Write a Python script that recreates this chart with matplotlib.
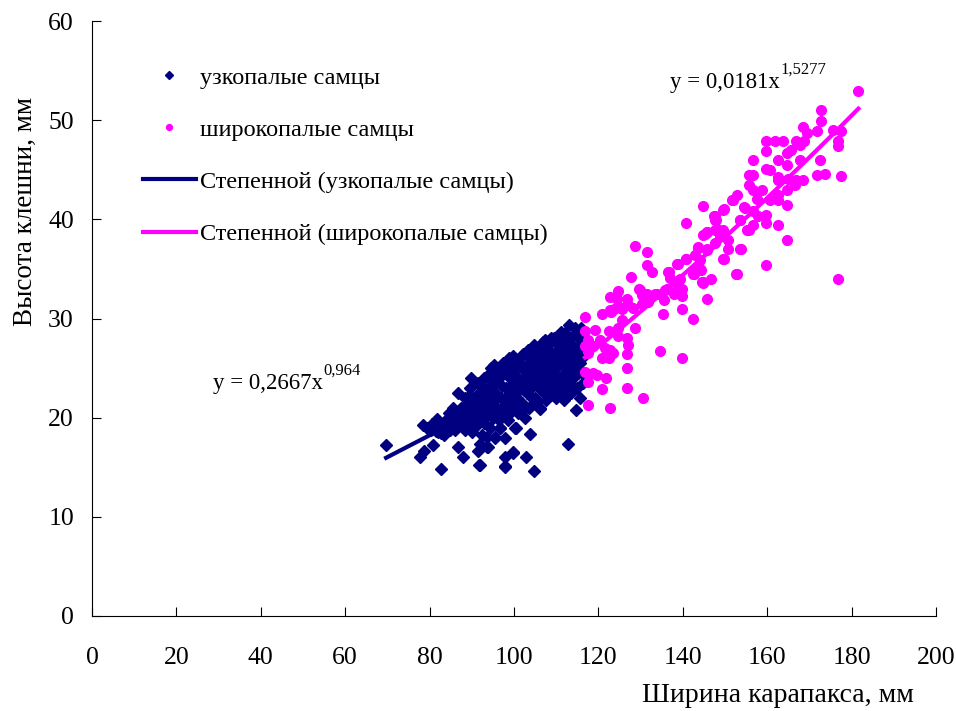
import numpy as np
import matplotlib
matplotlib.use("Agg")
import matplotlib.pyplot as plt

plt.rcParams['font.family'] = ['Liberation Serif', 'DejaVu Serif']

# узкопалые самцы: (ширина карапакса, высота клешни)
narrow_pts = [
    (69.7, 17.2), (77.7, 16.0), (78.7, 16.6), (78.5, 19.3), (79.5, 19.0), (80.5, 19.4),
    (81.7, 19.9), (80.9, 17.2), (82.7, 14.8), (82.0, 18.6), (83.0, 19.2), (83.5, 18.3),
    (84.0, 19.8), (84.5, 20.5), (85.0, 19.0), (85.6, 21.0), (86.0, 18.8), (86.5, 20.2),
    (86.8, 22.5), (86.8, 17.0), (87.0, 19.5), (87.5, 21.0), (87.8, 16.0), (88.0, 20.0),
    (88.3, 22.0), (88.5, 18.8), (89.0, 21.5), (89.0, 19.5), (89.5, 23.0), (89.7, 24.0),
    (90.0, 20.5), (90.0, 18.6), (90.5, 22.0), (91.0, 21.0), (91.0, 19.2), (91.5, 23.5),
    (91.5, 16.6), (91.7, 15.2), (91.9, 17.3), (92.0, 20.0), (92.0, 22.5), (92.5, 18.3),
    (92.5, 21.5), (93.0, 24.0), (93.0, 19.5), (93.5, 22.0), (93.5, 18.1), (93.8, 17.0),
    (93.8, 20.8), (94.0, 23.0), (94.3, 19.0), (94.5, 25.0), (94.5, 21.5), (95.0, 24.5),
    (95.0, 20.0), (95.5, 22.5), (95.6, 18.0), (96.0, 21.0), (96.0, 23.5), (96.5, 19.8),
    (96.8, 19.0), (96.8, 25.0), (97.0, 22.0), (97.0, 24.2), (97.5, 20.5), (97.8, 18.0),
    (97.8, 16.0), (97.8, 15.0), (98.0, 23.0), (98.0, 21.5), (98.5, 25.5), (98.5, 19.8),
    (98.9, 26.0), (99.0, 22.5), (99.0, 24.0), (99.5, 20.8), (99.8, 16.5), (100.0, 23.5),
    (100.0, 21.5), (100.3, 19.0), (100.5, 25.0), (100.5, 22.5), (101.0, 24.0), (101.0, 20.5),
    (101.5, 26.0), (101.5, 23.0), (102.0, 21.5), (102.0, 25.0), (102.5, 24.0), (102.8, 26.4),
    (102.8, 16.0), (102.5, 20.0), (103.0, 22.5), (103.5, 25.5), (103.5, 21.0), (103.8, 18.4),
    (104.0, 24.0), (104.0, 23.0), (104.5, 26.5), (104.7, 14.6), (105.0, 22.0), (105.0, 25.0),
    (105.5, 23.5), (105.5, 27.0), (106.0, 24.5), (106.2, 21.0), (106.5, 26.0), (106.5, 22.8),
    (106.9, 27.6), (107.0, 25.0), (107.0, 23.5), (107.5, 21.8), (107.5, 26.5), (108.0, 24.0),
    (108.0, 27.3), (108.5, 22.5), (108.5, 25.5), (109.0, 26.5), (109.0, 23.5), (109.5, 28.0),
    (109.7, 27.7), (110.0, 25.0), (110.0, 22.0), (110.5, 26.5), (110.5, 24.0), (110.9, 28.2),
    (110.9, 22.5), (111.0, 27.0), (111.0, 23.0), (111.5, 25.5), (111.8, 21.8), (112.0, 28.5),
    (112.0, 24.5), (112.1, 22.0), (112.5, 26.5), (112.5, 23.0), (112.8, 17.3), (113.0, 29.3),
    (113.0, 27.5), (113.0, 25.0), (113.5, 22.5), (113.5, 28.0), (114.0, 26.0), (114.0, 24.0),
    (114.5, 29.0), (114.5, 27.0), (114.7, 20.8), (115.0, 25.5), (115.0, 23.0), (115.6, 22.0),
    (115.5, 28.0), (115.5, 26.5), (116.0, 27.5), (116.0, 24.5), (106.2, 20.9), (96.7, 19.0),
    (100.5, 19.0), (95.5, 18.1), (93.5, 17.0), (91.9, 15.2), (97.9, 15.1), (99.8, 16.4),
    (85.5, 19.8), (86.2, 19.5), (87.2, 20.3), (88.2, 19.2), (88.8, 20.8), (89.3, 22.2),
    (89.8, 19.9), (84.8, 18.8), (83.8, 19.0), (82.8, 18.5), (81.5, 18.7), (80.3, 18.8),
    (90.3, 21.2), (90.8, 19.7), (91.3, 22.3), (91.8, 20.6), (92.3, 23.2), (92.8, 21.0),
    (93.2, 22.8), (93.3, 20.2), (93.7, 24.2), (94.2, 21.8), (94.7, 20.4), (94.8, 23.6),
    (95.2, 22.0), (95.3, 25.3), (95.8, 20.7), (96.2, 24.3), (96.3, 22.2), (96.7, 20.3),
    (97.2, 23.2), (97.3, 25.5), (97.7, 21.2), (98.2, 24.6), (98.3, 22.2), (98.7, 20.4),
    (99.2, 25.2), (99.3, 23.2), (99.7, 21.8), (99.8, 26.2), (100.2, 24.3), (100.8, 22.0),
    (101.2, 25.5), (101.3, 21.2), (101.8, 23.6), (102.2, 26.4), (102.3, 22.8), (102.7, 21.0),
    (103.2, 24.7), (103.3, 26.8), (103.7, 23.3), (104.2, 22.0), (104.3, 25.5), (104.8, 24.2),
    (104.8, 27.3), (105.2, 26.0), (105.3, 21.5), (105.8, 24.0), (106.2, 27.0), (106.3, 23.0),
    (106.8, 25.5), (107.2, 22.5), (107.3, 27.8), (107.8, 24.6), (108.2, 23.0), (108.3, 26.3),
    (108.8, 28.0), (108.8, 24.5), (109.2, 22.3), (109.3, 25.5), (109.8, 26.5), (109.8, 23.8),
    (110.2, 27.5), (110.3, 23.2), (110.8, 25.7), (111.2, 28.6), (111.3, 24.2), (111.7, 26.3),
    (112.2, 27.5), (112.3, 23.6), (112.8, 25.8), (113.2, 26.3), (113.3, 24.0), (113.7, 27.0),
    (113.8, 23.2), (114.2, 28.3), (114.3, 25.0), (114.8, 26.2), (114.8, 28.5), (115.2, 24.5),
    (115.3, 27.2), (115.7, 25.5), (115.8, 29.0), (116.2, 26.0), (116.3, 28.5), (116.3, 23.5),
]
narrow_x = [p[0] for p in narrow_pts]
narrow_y = [p[1] for p in narrow_pts]

# широкопалые самцы
wide_pts = [
    (116.8, 30.2), (120.8, 30.5), (123.0, 30.7), (123.8, 31.0), (125.5, 31.1), (127.1, 31.4),
    (128.3, 31.1), (130.3, 31.5), (131.8, 31.7), (135.6, 31.9), (139.7, 31.0), (142.5, 29.9),
    (135.4, 30.5), (128.7, 29.0), (124.7, 29.0), (122.4, 28.7), (119.2, 28.8), (116.8, 28.7),
    (117.6, 27.8), (120.4, 27.8), (124.7, 28.2), (126.7, 28.0), (127.1, 27.3), (116.8, 27.2),
    (118.8, 27.2), (121.6, 27.0), (122.7, 26.8), (117.6, 26.5), (123.5, 26.5), (120.8, 26.0),
    (122.4, 26.0), (126.7, 26.4), (134.7, 26.7), (139.7, 26.0), (126.7, 25.0), (116.8, 24.6),
    (118.8, 24.5), (119.6, 24.3), (121.7, 24.0), (117.6, 23.6), (120.8, 22.9), (126.7, 23.0),
    (130.6, 22.0), (117.6, 21.3), (122.7, 21.0),
    (128.7, 37.3), (131.6, 36.7), (131.6, 35.4), (132.6, 34.7), (127.7, 34.2), (136.7, 34.7),
    (138.7, 35.5), (140.7, 36.0), (143.7, 37.2), (145.3, 38.5), (144.7, 33.6), (146.7, 34.0),
    (145.7, 32.0), (139.7, 32.3), (137.8, 32.5), (137.0, 34.1), (138.6, 33.4), (136.2, 33.0),
    (133.8, 32.5), (129.9, 32.9), (130.3, 32.4), (124.7, 32.8), (122.7, 32.2), (126.7, 32.0),
    (125.7, 31.0), (122.7, 30.9), (125.7, 29.8),
    (144.7, 41.3), (147.4, 40.3), (149.8, 41.0), (152.0, 41.9), (154.5, 41.2), (147.9, 39.9),
    (140.8, 39.6), (148.1, 39.0), (149.6, 38.9), (153.6, 39.9), (155.3, 38.9), (145.8, 38.7),
    (144.7, 38.4), (148.8, 38.3), (150.8, 37.0), (153.7, 37.0), (149.8, 36.0), (152.6, 34.5),
    (143.7, 37.1), (145.7, 36.9), (142.9, 36.4), (140.8, 36.0), (144.1, 35.9), (143.1, 35.1),
    (144.2, 34.9), (142.5, 34.5), (138.8, 35.5), (136.6, 34.7), (139.3, 34.0), (144.6, 33.7),
    (139.7, 33.0), (135.8, 32.9), (133.4, 32.5), (131.4, 32.5), (129.7, 33.0), (124.5, 32.0),
    (181.6, 52.9), (172.7, 51.0), (172.7, 49.9), (168.6, 49.3), (169.5, 48.7), (171.7, 48.9),
    (175.7, 49.0), (177.6, 48.9), (176.7, 47.9), (176.7, 47.4), (159.7, 47.9), (161.8, 47.9),
    (163.8, 47.9), (159.7, 46.9), (166.8, 47.9), (168.8, 47.9), (167.8, 47.5), (165.6, 47.0),
    (164.6, 46.7), (162.6, 46.0), (156.7, 46.0), (164.6, 45.5), (167.8, 46.0), (172.5, 46.0),
    (171.7, 44.5), (173.7, 44.6), (177.6, 44.4), (159.7, 45.1), (160.7, 45.0), (162.6, 44.3),
    (155.8, 44.5), (156.7, 44.5), (162.6, 44.0), (165.0, 44.1), (166.8, 44.0), (168.6, 44.0),
    (166.6, 43.5), (164.6, 43.0), (155.8, 43.5), (158.7, 43.0), (156.7, 43.0), (152.8, 42.5),
    (151.6, 41.9), (157.5, 42.1), (162.6, 42.5), (160.7, 41.9), (162.6, 41.9), (164.6, 41.4),
    (154.7, 41.1), (156.7, 40.8), (159.7, 40.4), (159.7, 39.6), (162.6, 39.4), (157.9, 40.3),
    (156.7, 39.4), (155.8, 38.9), (149.6, 40.9), (147.6, 40.3), (147.6, 39.9), (153.6, 39.9),
    (147.6, 38.9), (145.7, 38.7), (148.8, 38.4), (147.6, 37.6), (150.8, 37.9), (145.7, 37.0),
    (153.6, 37.0), (149.6, 36.0), (164.6, 37.9), (159.7, 35.4), (152.8, 34.5), (144.7, 33.7),
    (176.7, 34.0), (142.7, 34.5), (144.1, 35.0),
]
wide_x = [p[0] for p in wide_pts]
wide_y = [p[1] for p in wide_pts]

# степенные линии тренда y = a * x^b
narrow_a, narrow_b = 0.2667, 0.964
wide_a, wide_b = 0.0181, 1.5277

fig = plt.figure(figsize=(9.56, 7.11), dpi=100)
ax = fig.add_axes([92 / 956, 95 / 711, 844 / 956, 595 / 711])

navy = '#000080'
pink = '#FF00FF'

ax.plot(narrow_x, narrow_y, 'D', color=navy, markersize=6.5, linestyle='none',
        label='узкопалые самцы')
ax.plot(wide_x, wide_y, 'o', color=pink, markersize=7, linestyle='none',
        label='широкопалые самцы')

tx = np.linspace(min(narrow_x), max(narrow_x), 100)
ax.plot(tx, narrow_a * tx ** narrow_b, color=navy, lw=3,
        label='Степенной (узкопалые самцы)')
tx = np.linspace(min(wide_x), max(wide_x), 100)
ax.plot(tx, wide_a * tx ** wide_b, color=pink, lw=3,
        label='Степенной (широкопалые самцы)')

ax.set_xlim(0, 200)
ax.set_ylim(0, 60)
ax.set_xticks(range(0, 201, 20))
ax.set_yticks(range(0, 61, 10))
ax.spines['top'].set_visible(False)
ax.spines['right'].set_visible(False)
ax.tick_params(direction='in', length=6.5, width=0.8, labelsize=18.5)
ax.tick_params(axis='x', pad=22)
ax.tick_params(axis='y', pad=13)

# подписи уравнений трендов: основной текст + степень
def equation(x, y, main, power):
    t = ax.text(x, y, main, fontsize=16.5, va='center', ha='left')
    ax.annotate(power, xy=(1.0, 1.12), xycoords=t, fontsize=12,
                va='center', ha='left')

equation(28.7, 23.4, 'y = 0,2667x', '0,964')
equation(137, 53.8, 'y = 0,0181x', '1,5277')

leg = ax.legend(loc='upper left', bbox_to_anchor=(0.034, 0.96), frameon=False,
                fontsize=17.5, handlelength=2.2, handletextpad=0.15,
                labelspacing=1.24, markerscale=0.6)

fig.text(778 / 956, 1 - 695 / 711, 'Ширина карапакса, мм', fontsize=20,
         ha='center', va='center')
fig.text(25 / 956, 1 - 211 / 711, 'Высота клешни, мм', fontsize=19.5,
         ha='center', va='center', rotation=90)

fig.savefig('out.png', dpi=100)
